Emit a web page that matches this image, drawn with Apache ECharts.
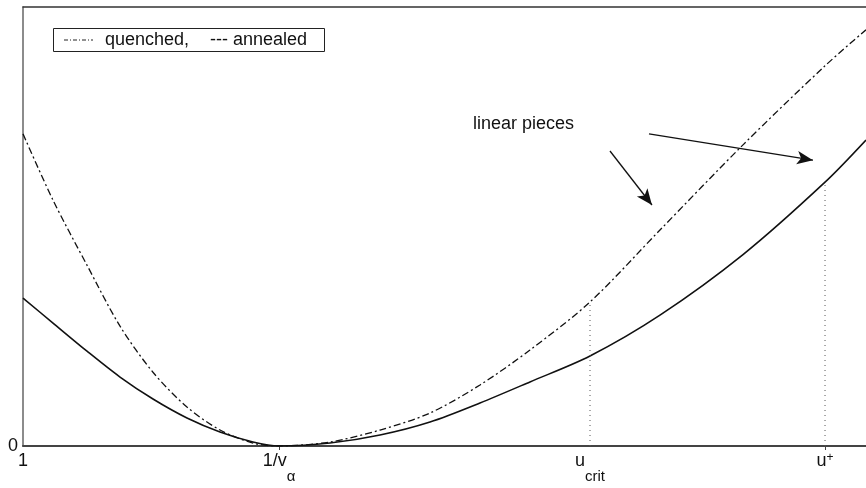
<!DOCTYPE html>
<html>
<head>
<meta charset="utf-8">
<script src="https://cdn.jsdelivr.net/npm/echarts@6/dist/echarts.min.js"></script>
<style>
  html, body { margin: 0; padding: 0; background: #fff; }
  #main { width: 866px; height: 488px; }
</style>
</head>
<body>
<div id="main"></div>
<script>
// positions along u, normalised so the left edge (u = 1) is 0 and the right edge is 1
const xs = [0, 0.0356, 0.0759, 0.1151, 0.1542, 0.1945, 0.2337, 0.2728, 0.3037,
  0.3642, 0.4235, 0.4828, 0.5421, 0.6014, 0.6726, 0.7556, 0.8541, 0.9514, 1.0];

// dash-dot curve (upper)
const quenched = [0.711, 0.56, 0.412, 0.273, 0.168, 0.0888, 0.0364, 0.0068, 0,
  0.0091, 0.0364, 0.0752, 0.139, 0.2187, 0.328, 0.492, 0.686, 0.866, 0.948];

// solid curve (lower)
const annealed = [0.337, 0.28, 0.216, 0.157, 0.107, 0.0638, 0.0319, 0.0091, 0,
  0.0068, 0.0251, 0.0547, 0.098, 0.146, 0.205, 0.298, 0.436, 0.601, 0.697];

// tick positions and labels on the u axis
const tickValues = [0, 0.3037, 0.6726, 0.9514];
const tickLabels = ['{a|1}', '{a|1/v}{s|α}', '{a|u}{s|crit}', '{b|u}{p|+}'];

// where the dotted verticals go up to (u_crit on dash-dot, u+ on solid)
const uCritIdx = 14;
const uPlusIdx = 17;

// the two "linear pieces" arrows, [from, to] in data coords
const arrows = [
  [[0.6963, 0.672], [0.7461, 0.549]],
  [[0.7426, 0.711], [0.9371, 0.651]]
];

const FONT = 'Liberation Sans, Arial, Helvetica, sans-serif';

const pair = (ys) => xs.map((x, i) => [x, ys[i]]);

const options = {
  animation: false,
  backgroundColor: '#fff',
  grid: { left: 23, right: 0, top: 7, bottom: 42 },
  xAxis: [
    {
      type: 'value',
      min: 0,
      max: 1,
      splitLine: { show: false },
      axisLine: { show: true, lineStyle: { color: '#444', width: 2 } },
      axisTick: { show: true, customValues: [tickValues[1], tickValues[3]], length: 4, lineStyle: { color: '#444' } },
      axisLabel: {
        customValues: tickValues,
        margin: 6,
        formatter: (v) => {
          let best = 0;
          tickValues.forEach((t, i) => { if (Math.abs(t - v) < Math.abs(tickValues[best] - v)) best = i; });
          return tickLabels[best];
        },
        rich: {
          a: { fontFamily: FONT, fontSize: 18, color: '#111', lineHeight: 20, verticalAlign: 'top' },
          s: { fontFamily: FONT, fontSize: 15, color: '#111', lineHeight: 32, verticalAlign: 'bottom' },
          b: { fontFamily: FONT, fontSize: 18, color: '#111', lineHeight: 18, verticalAlign: 'bottom' },
          p: { fontFamily: FONT, fontSize: 12, color: '#111', lineHeight: 8, verticalAlign: 'top' }
        }
      }
    },
    {
      type: 'value',
      position: 'top',
      min: 0,
      max: 1,
      splitLine: { show: false },
      axisLine: { show: true, lineStyle: { color: '#333', width: 1.5 } },
      axisTick: { show: false },
      axisLabel: { show: false }
    }
  ],
  yAxis: {
    type: 'value',
    min: 0,
    max: 1,
    splitLine: { show: false },
    axisLine: { show: true, lineStyle: { color: '#666', width: 1.5 } },
    axisTick: { show: false },
    axisLabel: {
      customValues: [0],
      formatter: () => '0',
      margin: 5,
      fontFamily: FONT,
      fontSize: 18,
      color: '#111',
      padding: [0, 0, 12, 0]
    }
  },
  series: [
    {
      name: 'quenched',
      type: 'line',
      data: pair(quenched),
      smooth: 0.3,
      showSymbol: false,
      lineStyle: { color: '#111', width: 1.3, type: [7, 3, 2, 3] }
    },
    {
      name: 'annealed',
      type: 'line',
      data: pair(annealed),
      smooth: 0.3,
      showSymbol: false,
      lineStyle: { color: '#111', width: 1.6 },
      markLine: {
        silent: true,
        symbol: ['none', 'arrow'],
        symbolSize: [10, 16],
        label: { show: false },
        lineStyle: { color: '#111', width: 1.3, type: 'solid' },
        data: arrows.map((a) => [{ coord: a[0] }, { coord: a[1] }])
      }
    },
    {
      name: 'u_crit',
      type: 'line',
      data: [[xs[uCritIdx], 0], [xs[uCritIdx], quenched[uCritIdx]]],
      showSymbol: false,
      lineStyle: { color: '#555', width: 1, type: [1, 4] }
    },
    {
      name: 'u_plus',
      type: 'line',
      data: [[xs[uPlusIdx], 0], [xs[uPlusIdx], annealed[uPlusIdx]]],
      showSymbol: false,
      lineStyle: { color: '#555', width: 1, type: [1, 4] }
    }
  ],
  graphic: [
    {
      type: 'rect',
      shape: { x: 53.5, y: 28.5, width: 271, height: 23 },
      style: { fill: '#fff', stroke: '#222', lineWidth: 1 }
    },
    {
      type: 'line',
      shape: { x1: 64, y1: 40, x2: 93, y2: 40 },
      style: { stroke: '#222', lineWidth: 1, lineDash: [4, 2, 1, 2] }
    },
    {
      type: 'text',
      x: 105,
      y: 40,
      style: { text: 'quenched,', font: '18px ' + FONT, fill: '#111', verticalAlign: 'middle' }
    },
    {
      type: 'text',
      x: 210,
      y: 40,
      style: { text: '--- annealed', font: '18px ' + FONT, fill: '#111', verticalAlign: 'middle' }
    },
    {
      type: 'text',
      x: 473,
      y: 124,
      style: { text: 'linear pieces', font: '18px ' + FONT, fill: '#111', verticalAlign: 'middle' }
    }
  ]
};

let myChart = echarts.init(document.getElementById('main'));
myChart.setOption(options);
</script>
</body>
</html>
